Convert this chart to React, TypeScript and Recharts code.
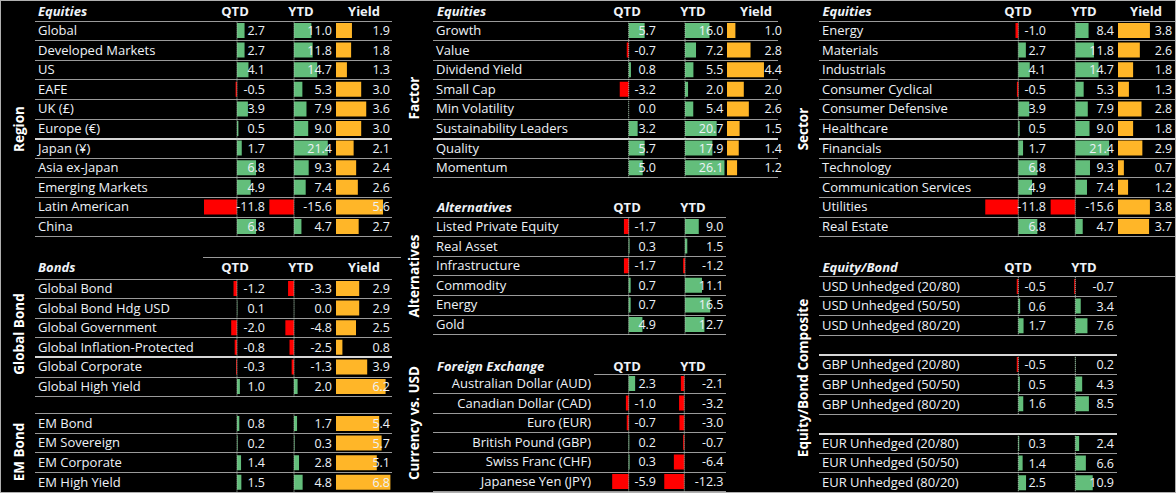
import { BarChart, Bar, XAxis, YAxis, Cell, LabelList, ReferenceLine } from 'recharts'

const GREEN = '#63be7b'
const RED = '#ff0000'
const ORANGE = '#ffb628'
const TEXT = '#eef2f7'
const LINE = '#9a9a9a'
const LINE_LIGHT = '#d6d6d6'
const FONT = '"Open Sans", sans-serif'
const ROW_H = 19.6

// Region
const regionNames = ['Global', 'Developed Markets', 'US', 'EAFE', 'UK (£)', 'Europe (€)', 'Japan (¥)', 'Asia ex-Japan', 'Emerging Markets', 'Latin American', 'China']
const regionQtd = [2.7, 2.7, 4.1, -0.5, 3.9, 0.5, 1.7, 6.8, 4.9, -11.8, 6.8]
const regionYtd = [11.0, 11.8, 14.7, 5.3, 7.9, 9.0, 21.4, 9.3, 7.4, -15.6, 4.7]
const regionYield = [1.9, 1.8, 1.3, 3.0, 3.6, 3.0, 2.1, 2.4, 2.6, 5.6, 2.7]

// Bonds
const bondNames = ['Global Bond', 'Global Bond Hdg USD', 'Global Government', 'Global Inflation-Protected', 'Global Corporate', 'Global High Yield']
const bondQtd = [-1.2, 0.1, -2.0, -0.8, -0.3, 1.0]
const bondYtd = [-3.3, 0.0, -4.8, -2.5, -1.3, 2.0]
const bondYield = [2.9, 2.9, 2.5, 0.8, 3.9, 6.2]

const emNames = ['EM Bond', 'EM Sovereign', 'EM Corporate', 'EM High Yield']
const emQtd = [0.8, 0.2, 1.4, 1.5]
const emYtd = [1.7, 0.3, 2.8, 4.8]
const emYield = [5.4, 5.7, 5.1, 6.8]

// Factor
const factorNames = ['Growth', 'Value', 'Dividend Yield', 'Small Cap', 'Min Volatility', 'Sustainability Leaders', 'Quality', 'Momentum']
const factorQtd = [5.7, -0.7, 0.8, -3.2, 0.0, 3.2, 5.7, 5.0]
const factorYtd = [16.0, 7.2, 5.5, 2.0, 5.4, 20.7, 17.9, 26.1]
const factorYield = [1.0, 2.8, 4.4, 2.0, 2.6, 1.5, 1.4, 1.2]

// Alternatives
const altNames = ['Listed Private Equity', 'Real Asset', 'Infrastructure', 'Commodity', 'Energy', 'Gold']
const altQtd = [-1.7, 0.3, -1.7, 0.7, 0.7, 4.9]
const altYtd = [9.0, 1.5, -1.2, 11.1, 16.5, 12.7]

// Foreign exchange
const fxNames = ['Australian Dollar (AUD)', 'Canadian Dollar (CAD)', 'Euro (EUR)', 'British Pound (GBP)', 'Swiss Franc (CHF)', 'Japanese Yen (JPY)']
const fxQtd = [2.3, -1.0, -0.7, 0.2, 0.3, -5.9]
const fxYtd = [-2.1, -3.2, -3.0, -0.7, -6.4, -12.3]

// Sector
const sectorNames = ['Energy', 'Materials', 'Industrials', 'Consumer Cyclical', 'Consumer Defensive', 'Healthcare', 'Financials', 'Technology', 'Communication Services', 'Utilities', 'Real Estate']
const sectorQtd = [-1.0, 2.7, 4.1, -0.5, 3.9, 0.5, 1.7, 6.8, 4.9, -11.8, 6.8]
const sectorYtd = [8.4, 11.8, 14.7, 5.3, 7.9, 9.0, 21.4, 9.3, 7.4, -15.6, 4.7]
const sectorYield = [3.8, 2.6, 1.8, 1.3, 2.8, 1.8, 2.9, 0.7, 1.2, 3.8, 3.7]

// Equity/Bond composite
const usdNames = ['USD Unhedged (20/80)', 'USD Unhedged (50/50)', 'USD Unhedged (80/20)']
const usdQtd = [-0.5, 0.6, 1.7]
const usdYtd = [-0.7, 3.4, 7.6]
const gbpNames = ['GBP Unhedged (20/80)', 'GBP Unhedged (50/50)', 'GBP Unhedged (80/20)']
const gbpQtd = [-0.5, 0.5, 1.6]
const gbpYtd = [0.2, 4.3, 8.5]
const eurNames = ['EUR Unhedged (20/80)', 'EUR Unhedged (50/50)', 'EUR Unhedged (80/20)']
const eurQtd = [0.3, 1.4, 2.5]
const eurYtd = [2.4, 6.6, 10.9]

type Scale = { left: number; right: number; zero: number; ppu: number }

function ValueColumn({ names, values, top, scale, kind }: { names: string[]; values: number[]; top: number; scale: Scale; kind: 'ret' | 'yield' }) {
  const width = scale.right - scale.left
  const height = values.length * ROW_H
  const data = values.map((v, i) => ({ name: names[i], value: v }))
  const domain = [(scale.left - scale.zero) / scale.ppu, (scale.right - scale.zero) / scale.ppu]
  return (
    <div style={{ position: 'absolute', left: scale.left, top }}>
      <BarChart
        layout="vertical"
        width={width}
        height={height}
        data={data}
        margin={{ top: 0, right: 0, bottom: 0, left: 0 }}
        barSize={15}
      >
        <XAxis type="number" domain={domain} hide allowDataOverflow />
        <YAxis type="category" dataKey="name" hide />
        <Bar dataKey="value" isAnimationActive={false} minPointSize={0.1}>
          {data.map((d, i) => (
            <Cell key={i} fill={kind === 'yield' ? ORANGE : d.value < 0 ? RED : GREEN} />
          ))}
          <LabelList
            dataKey="value"
            content={(p: any) => (
              <text
                x={width - 1}
                y={p.y + p.height / 2}
                dy="0.36em"
                textAnchor="end"
                fill={TEXT}
                fontSize={12.5}
                fontFamily={FONT}
              >
                {Number(p.value).toFixed(1)}
              </text>
            )}
          />
        </Bar>
        {kind === 'ret' && <ReferenceLine x={0} stroke="#b5cbb9" strokeDasharray="1 1" />}
      </BarChart>
    </div>
  )
}

function HLine({ x1, x2, y, light }: { x1: number; x2: number; y: number; light?: boolean }) {
  return (
    <div
      style={{
        position: 'absolute',
        left: x1,
        top: y - (light ? 1 : 0.5),
        width: x2 - x1,
        height: light ? 2 : 1,
        background: light ? LINE_LIGHT : LINE,
      }}
    />
  )
}

function RowBlock({ names, top, x1, x2, labelX, labelRight, thickAfter, topLine = true, topLight }: {
  names: string[]; top: number; x1: number; x2: number; labelX: number; labelRight?: number
  thickAfter?: number; topLine?: boolean; topLight?: boolean
}) {
  return (
    <>
      {topLine && <HLine x1={x1} x2={x2} y={top} light={topLight} />}
      {names.map((n, i) => (
        <div
          key={n}
          style={{
            position: 'absolute',
            left: labelX,
            top: top + i * ROW_H,
            width: labelRight ? labelRight - labelX : undefined,
            height: ROW_H,
            lineHeight: ROW_H + 'px',
            textAlign: labelRight ? 'right' : 'left',
            fontSize: 13,
            color: TEXT,
            whiteSpace: 'nowrap',
          }}
        >
          {n}
        </div>
      ))}
      {names.map((n, i) => (
        <HLine key={'l' + n} x1={x1} x2={x2} y={top + (i + 1) * ROW_H} light={thickAfter === i + 1} />
      ))}
    </>
  )
}

function Title({ text, x, y }: { text: string; x: number; y: number }) {
  return (
    <div style={{ position: 'absolute', left: x, top: y - 10, lineHeight: '20px', fontSize: 13, fontWeight: 700, fontStyle: 'italic', color: TEXT, whiteSpace: 'nowrap' }}>
      {text}
    </div>
  )
}

function Head({ text, x, y }: { text: string; x: number; y: number }) {
  return (
    <div style={{ position: 'absolute', left: x, top: y, transform: 'translate(-50%,-50%)', fontSize: 13, fontWeight: 700, color: TEXT, whiteSpace: 'nowrap' }}>
      {text}
    </div>
  )
}

function Side({ text, x, y }: { text: string; x: number; y: number }) {
  return (
    <div style={{ position: 'absolute', left: x, top: y, transform: 'translate(-50%,-50%) rotate(-90deg)', fontSize: 13.5, fontWeight: 700, color: '#ffffff', whiteSpace: 'nowrap' }}>
      {text}
    </div>
  )
}

// column scales (pixel positions of each data-bar column)
const L_QTD: Scale = { left: 203, right: 265, zero: 236, ppu: 2.8 }
const L_YTD: Scale = { left: 268, right: 332, zero: 293, ppu: 1.58 }
const L_YLD: Scale = { left: 335, right: 390, zero: 335, ppu: 8.4 }
const B_QTD: Scale = { left: 203, right: 265, zero: 236, ppu: 2.9 }
const B_YTD: Scale = { left: 268, right: 332, zero: 293, ppu: 1.8 }
const B_YLD: Scale = { left: 335, right: 390, zero: 335, ppu: 8 }
const M_QTD: Scale = { left: 595, right: 656, zero: 627.7, ppu: 2.8 }
const M_YTD: Scale = { left: 658, right: 723.5, zero: 684, ppu: 1.53 }
const M_YLD: Scale = { left: 726, right: 782, zero: 726, ppu: 8.4 }
const FX_YTD: Scale = { left: 658, right: 723.5, zero: 683.3, ppu: 1.63 }
const R_QTD: Scale = { left: 984, right: 1046, zero: 1017.3, ppu: 2.8 }
const R_YTD: Scale = { left: 1048, right: 1114, zero: 1074.3, ppu: 1.58 }
const R_YLD: Scale = { left: 1117.3, right: 1172.5, zero: 1117.3, ppu: 8.4 }
const E_QTD: Scale = { left: 984, right: 1046, zero: 1017.3, ppu: 3.1 }
const E_YTD: Scale = { left: 1048, right: 1114, zero: 1074.3, ppu: 1.6 }

export default function App() {
  return (
    <div
      style={{
        position: 'fixed',
        left: 0,
        top: 0,
        width: 1176,
        height: 493,
        boxSizing: 'border-box',
        border: '1px solid #b0b0b0',
        background: '#000',
        fontFamily: FONT,
        overflow: 'hidden',
      }}
    >
      {/* Region */}
      <Side text="Region" x={18} y={128} />
      <Title text="Equities" x={37} y={10} />
      <Head text="QTD" x={234} y={10} />
      <Head text="YTD" x={300} y={10} />
      <Head text="Yield" x={363} y={10} />
      <RowBlock names={regionNames} top={20} x1={34} x2={391} labelX={37} thickAfter={6} />
      <ValueColumn names={regionNames} values={regionQtd} top={20} scale={L_QTD} kind="ret" />
      <ValueColumn names={regionNames} values={regionYtd} top={20} scale={L_YTD} kind="ret" />
      <ValueColumn names={regionNames} values={regionYield} top={20} scale={L_YLD} kind="yield" />

      {/* Bonds */}
      <HLine x1={202} x2={400} y={256} />
      <Side text="Global Bond" x={18} y={333} />
      <Side text="EM Bond" x={18} y={451} />
      <Title text="Bonds" x={37} y={266} />
      <Head text="QTD" x={234} y={266} />
      <Head text="YTD" x={300} y={266} />
      <Head text="Yield" x={363} y={266} />
      <RowBlock names={bondNames} top={278} x1={34} x2={391} labelX={37} thickAfter={4} />
      <ValueColumn names={bondNames} values={bondQtd} top={278} scale={B_QTD} kind="ret" />
      <ValueColumn names={bondNames} values={bondYtd} top={278} scale={B_YTD} kind="ret" />
      <ValueColumn names={bondNames} values={bondYield} top={278} scale={B_YLD} kind="yield" />
      <RowBlock names={emNames} top={412.7} x1={34} x2={391} labelX={37} />
      <ValueColumn names={emNames} values={emQtd} top={412.7} scale={B_QTD} kind="ret" />
      <ValueColumn names={emNames} values={emYtd} top={412.7} scale={B_YTD} kind="ret" />
      <ValueColumn names={emNames} values={emYield} top={412.7} scale={B_YLD} kind="yield" />

      {/* Factor */}
      <Side text="Factor" x={413} y={97} />
      <Title text="Equities" x={436} y={10} />
      <Head text="QTD" x={626} y={10} />
      <Head text="YTD" x={692} y={10} />
      <Head text="Yield" x={755} y={10} />
      <RowBlock names={factorNames} top={20} x1={432} x2={777} labelX={435} thickAfter={6} />
      <ValueColumn names={factorNames} values={factorQtd} top={20} scale={M_QTD} kind="ret" />
      <ValueColumn names={factorNames} values={factorYtd} top={20} scale={M_YTD} kind="ret" />
      <ValueColumn names={factorNames} values={factorYield} top={20} scale={M_YLD} kind="yield" />

      {/* Alternatives */}
      <Side text="Alternatives" x={413} y={275} />
      <Title text="Alternatives" x={436} y={206} />
      <Head text="QTD" x={626} y={206} />
      <Head text="YTD" x={692} y={206} />
      <RowBlock names={altNames} top={216} x1={432} x2={725} labelX={435} />
      <ValueColumn names={altNames} values={altQtd} top={216} scale={M_QTD} kind="ret" />
      <ValueColumn names={altNames} values={altYtd} top={216} scale={M_YTD} kind="ret" />

      {/* Foreign exchange */}
      <Side text="Currency vs. USD" x={413} y={422} />
      <Title text="Foreign Exchange" x={436} y={365} />
      <Head text="QTD" x={626} y={365} />
      <Head text="YTD" x={692} y={365} />
      <HLine x1={593} x2={725} y={373} />
      <RowBlock names={fxNames} top={373} x1={432} x2={725} labelX={432} labelRight={590} topLine={false} />
      <ValueColumn names={fxNames} values={fxQtd} top={373} scale={M_QTD} kind="ret" />
      <ValueColumn names={fxNames} values={fxYtd} top={373} scale={FX_YTD} kind="ret" />

      {/* Sector */}
      <Side text="Sector" x={802} y={128} />
      <Title text="Equities" x={821.5} y={10} />
      <Head text="QTD" x={1017} y={10} />
      <Head text="YTD" x={1083} y={10} />
      <Head text="Yield" x={1145} y={10} />
      <RowBlock names={sectorNames} top={20} x1={818} x2={1176} labelX={821} thickAfter={6} />
      <ValueColumn names={sectorNames} values={sectorQtd} top={20} scale={R_QTD} kind="ret" />
      <ValueColumn names={sectorNames} values={sectorYtd} top={20} scale={R_YTD} kind="ret" />
      <ValueColumn names={sectorNames} values={sectorYield} top={20} scale={R_YLD} kind="yield" />

      {/* Equity/Bond composite */}
      <Side text="Equity/Bond Composite" x={802} y={377} />
      <Title text="Equity/Bond" x={821.5} y={265.7} />
      <Head text="QTD" x={1017} y={265.7} />
      <Head text="YTD" x={1083} y={265.7} />
      <HLine x1={818} x2={1176} y={275.7} />
      <RowBlock names={usdNames} top={275.7} x1={818} x2={1116} labelX={821} topLine={false} />
      <ValueColumn names={usdNames} values={usdQtd} top={275.7} scale={E_QTD} kind="ret" />
      <ValueColumn names={usdNames} values={usdYtd} top={275.7} scale={E_YTD} kind="ret" />
      <RowBlock names={gbpNames} top={354.3} x1={818} x2={1116} labelX={821} topLight />
      <ValueColumn names={gbpNames} values={gbpQtd} top={354.3} scale={E_QTD} kind="ret" />
      <ValueColumn names={gbpNames} values={gbpYtd} top={354.3} scale={E_YTD} kind="ret" />
      <RowBlock names={eurNames} top={432.7} x1={818} x2={1116} labelX={821} topLight />
      <ValueColumn names={eurNames} values={eurQtd} top={432.7} scale={E_QTD} kind="ret" />
      <ValueColumn names={eurNames} values={eurYtd} top={432.7} scale={E_YTD} kind="ret" />
    </div>
  )
}
